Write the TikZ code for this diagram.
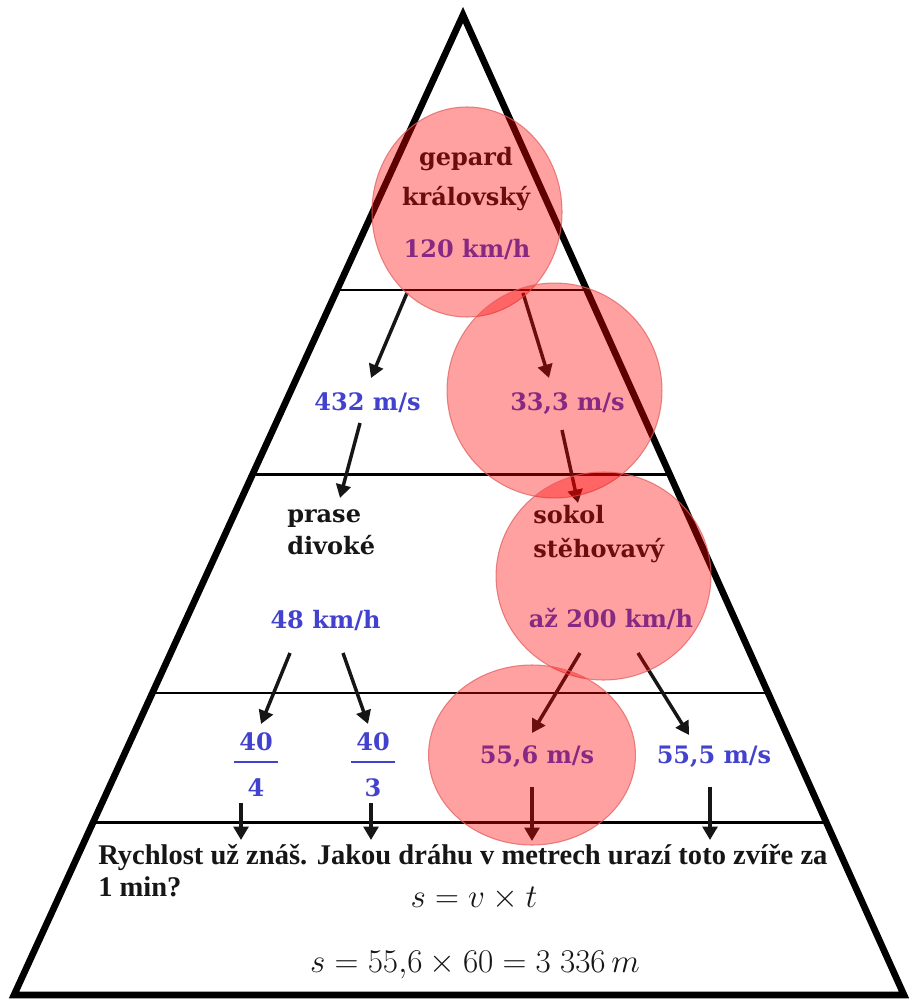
\documentclass[tikz,border=0pt]{standalone}
\usepackage{fontspec}
\setmainfont{Liberation Serif}
\newfontfamily\labfont{DejaVu Serif}
\usetikzlibrary{arrows.meta,calc}

\definecolor{labblue}{RGB}{66,66,206}
\definecolor{ink}{RGB}{22,22,22}
\definecolor{spot}{RGB}{255,0,0}
\definecolor{spotedge}{RGB}{228,96,96}

\begin{document}
\begin{tikzpicture}[x=0.75pt,y=-0.75pt,
  side/.style={line width=5pt, line join=miter},
  rung/.style={line width=2.2pt},
  fracbar/.style={line width=2.2pt, draw=labblue},
  arr/.style={line width=2.6pt, draw=ink, -{Triangle[length=10pt,width=11pt]}},
  lab/.style={font=\labfont\bfseries\fontsize{18}{20}\selectfont, inner sep=0pt, anchor=base},
  animal/.style={lab, text=ink},
  speed/.style={lab, text=labblue},
  question/.style={font=\bfseries\fontsize{21.4}{24}\selectfont, text=ink, inner sep=0pt, anchor=base west},
  eqn/.style={font=\fontsize{23}{26}\selectfont, text=ink, inner sep=0pt, anchor=base},
  spot/.style={fill=spot, fill opacity=0.37, draw=spotedge, draw opacity=0.75, line width=0.8pt},
]
\useasboundingbox (0,0) rectangle (910,999);
\fill[white] (0,0) rectangle (910,999);

% pyramid outline
\coordinate (apex) at (463,15);
\coordinate (bl) at (14,995);
\coordinate (br) at (904,995);
\draw[side] (apex) -- (br) -- (bl) -- cycle;

% floors of the pyramid
\foreach \t in {0.2806,0.4684,0.6918,0.8235}
  \draw[rung] ($(apex)!\t!(bl)$) -- ($(apex)!\t!(br)$);

% labels
\node[animal] (gep)  at (466,165) {gepard};
\node[animal] (kral) at (466,205) {královský};
\node[speed]  (v1)   at (467,257) {120 km/h};

\node[speed] (v1a) at (367.5,410) {432 m/s};
\node[speed] (v1b) at (567.5,410) {33,3 m/s};

\node[animal, anchor=base west] (pr1) at (287,522) {prase};
\node[animal, anchor=base west] (pr2) at (287,554) {divoké};
\node[speed] (v2) at (325.5,628) {48 km/h};

\node[animal, anchor=base west] (so1) at (533,523) {sokol};
\node[animal, anchor=base west] (so2) at (533,557) {stěhovavý};
\node[speed] (v3) at (611,627) {až 200 km/h};

\node[speed] (f1n) at (256,750) {40};
\node[speed] (f1d) at (256,796) {4};
\draw[fracbar] (234,762) -- (278,762);
\node[speed] (f2n) at (373,750) {40};
\node[speed] (f2d) at (373,796) {3};
\draw[fracbar] (351,762) -- (395,762);

\node[speed] (v3a) at (537,763) {55,6 m/s};
\node[speed] (v3b) at (714,763) {55,5 m/s};

\node[question] (q1) at (98,864) {Rychlost už znáš. Jakou dráhu v metrech urazí toto zvíře za};
\node[question] (q2) at (98,896) {1 min?};
\node[eqn] (e1) at (474,907) {$s = v \times t$};
\node[eqn] (e2) at (475,972) {$s = 55{,}6 \times 60 = 3\;336\,m$};

% arrow ends
\coordinate (a1s) at (407,293); \coordinate (a1e) at (371,378);
\coordinate (a2s) at (523,293); \coordinate (a2e) at (549,378);
\coordinate (a3s) at (360,423); \coordinate (a3e) at (340,498);
\coordinate (a4s) at (562,430); \coordinate (a4e) at (578,503);
\coordinate (a5s) at (290,653); \coordinate (a5e) at (261,724);
\coordinate (a6s) at (343,653); \coordinate (a6e) at (368,724);
\coordinate (a7s) at (580,653); \coordinate (a7e) at (532,733);
\coordinate (a8s) at (638,653); \coordinate (a8e) at (689,735);
\coordinate (d1s) at (241,803); \coordinate (d1e) at (241,840);
\coordinate (d2s) at (371,803); \coordinate (d2e) at (371,840);
\coordinate (d3s) at (532,787); \coordinate (d3e) at (532,841);
\coordinate (d4s) at (710,787); \coordinate (d4e) at (710,840);

\foreach \a in {a1,a2,a3,a4,a5,a6,a7,a8,d1,d2,d3,d4}
  \draw[arr] (\a s) -- (\a e);

% translucent highlight spots
\path[spot] (467,212) ellipse [x radius=71.25pt, y radius=78.75pt];
\path[spot] (554.5,390.5) ellipse [x radius=80.6pt, y radius=80.6pt];
\path[spot] (603.5,576) ellipse [x radius=80.6pt, y radius=78pt];
\path[spot] (532,755) ellipse [x radius=77.6pt, y radius=67.5pt];
\end{tikzpicture}
\end{document}
